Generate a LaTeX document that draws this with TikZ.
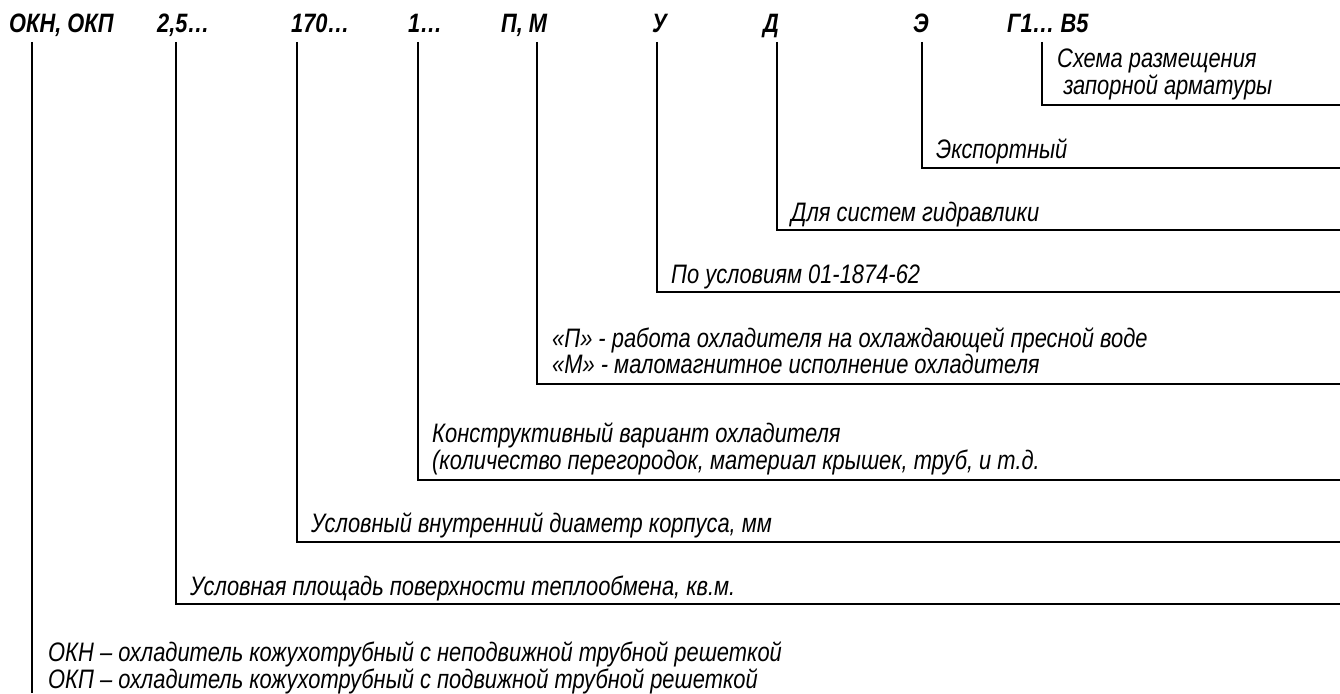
\documentclass[tikz,border=0pt]{standalone}
\usepackage{fontspec}
\setmainfont{Liberation Sans}[FakeStretch=0.82]
\begin{document}
\begin{tikzpicture}[x=1pt, y=-1pt,
		code/.style={font=\fontsize{26.6}{28}\selectfont\bfseries\itshape, anchor=base west, inner sep=0pt},
		note/.style={font=\fontsize{26.7}{28}\selectfont\itshape, anchor=base west, inner sep=0pt},
		lead/.style={line width=1.6pt}]
		
		\useasboundingbox (0,0) rectangle (1340,693);
		
		\node[code] (hOKN) at (9,33) {ОКН, ОКП};
		\node[code] (hS) at (157,33) {2,5…};
		\node[code] (hD) at (291,33) {170…};
		\node[code] (hV) at (408,33) {1…};
		\node[code] (hPM) at (501,33) {П, М};
		\node[code] (hU) at (652,33) {У};
		\node[code] (hG) at (763,33) {Д};
		\node[code] (hE) at (913,33) {Э};
		\node[code] (hA) at (1007,33) {Г1… В5};
		
		\foreach \n/\x in {OKN/32, S/176, D/297, V/418, PM/537, U/657, G/777, E/922, A/1042}
		\coordinate (t\n) at (\x,42);
		
		\foreach \n/\y in {S/604, D/542, V/480, PM/384, U/292, G/230, E/168, A/105}
		\coordinate (e\n) at (1340,\y);
		\coordinate (eOKN) at (32,693);
		
		\node[note] (nA1) at (1057,67) {Схема размещения};
		\node[note] (nA2) at (1057,94) {\ запорной арматуры};
		\node[note] (nE) at (936,158) {Экспортный};
		\node[note] (nG) at (791,221) {Для систем гидравлики};
		\node[note] (nU) at (671,283) {По условиям 01-1874-62};
		\node[note] (nPM1) at (552,347) {«П» - работа охладителя на охлаждающей пресной воде};
		\node[note] (nPM2) at (552,373) {«М» - маломагнитное исполнение охладителя};
		\node[note] (nV1) at (432,442) {Конструктивный вариант охладителя};
		\node[note] (nV2) at (432,469) {(количество перегородок, материал крышек, труб, и т.д.};
		\node[note] (nD) at (311,532) {Условный внутренний диаметр корпуса, мм};
		\node[note] (nS) at (190,595) {Условная площадь поверхности теплообмена, кв.м.};
		\node[note] (nOKN1) at (48,661) {ОКН – охладитель кожухотрубный с неподвижной трубной решеткой};
		\node[note] (nOKN2) at (48,688) {ОКП – охладитель кожухотрубный с подвижной трубной решеткой};
		
		\foreach \n in {S, D, V, PM, U, G, E, A}
		\draw[lead] (t\n) |- (e\n);
		\draw[lead] (tOKN) -- (eOKN);
		
	\end{tikzpicture}
\end{document}
